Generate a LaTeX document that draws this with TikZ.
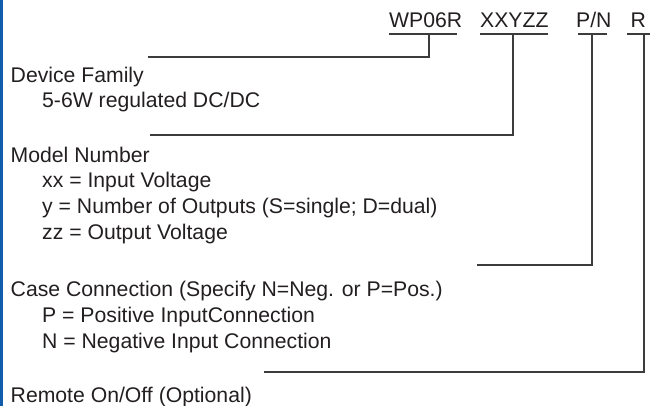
\documentclass[tikz,border=0pt]{standalone}
\usepackage{fontspec}
\setmainfont{Liberation Sans}
\definecolor{txt}{RGB}{35,31,32}
\definecolor{ln}{RGB}{60,60,60}
\definecolor{bar}{RGB}{18,92,172}
\begin{document}
\begin{tikzpicture}[x=1pt,y=-1pt,
  lbl/.style={anchor=base west, inner sep=0pt, font=\fontsize{21.2}{25}\selectfont, text=txt},
  lead/.style={draw=ln, line width=1.2pt}]
\useasboundingbox (0,0) rectangle (650,406);
\fill[bar] (0,0) rectangle (2.7,406);
% header
\node[lbl] (wp) at (389,28) {WP06R};
\node[lbl] (xy) at (480,28) {XXYZZ};
\node[lbl] (pn) at (576,28) {P/N};
\node[lbl] (r)  at (630.5,28) {R};
% descriptions
\node[lbl] (fam)  at (10.5,82.7) {Device Family};
\node[lbl] (fam1) at (42,108) {5-6W regulated DC/DC};
\node[lbl] (mod)  at (10.5,162.7) {Model Number};
\node[lbl] (mod1) at (42,188) {xx = Input Voltage};
\node[lbl] (mod2) at (42,213.5) {y = Number of Outputs (S=single; D=dual)};
\node[lbl] (mod3) at (42,239) {zz = Output Voltage};
\node[lbl] (cas)  at (10.5,296) {Case Connection (Specify N=Neg. or P=Pos.)};
\node[lbl] (cas1) at (42,322.7) {P = Positive InputConnection};
\node[lbl] (cas2) at (42,348.3) {N = Negative Input Connection};
\node[lbl] (rem)  at (10.5,402.5) {Remote On/Off (Optional)};
% underline coordinates
\coordinate (wpL) at (389,34); \coordinate (wpR) at (457,34); \coordinate (wpT) at (429,34);
\coordinate (xyL) at (480,34); \coordinate (xyR) at (548,34); \coordinate (xyT) at (513,34);
\coordinate (pnL) at (578,34); \coordinate (pnR) at (607,34); \coordinate (pnT) at (592,34);
\coordinate (rL)  at (627,34); \coordinate (rR)  at (650,34); \coordinate (rT)  at (644,34);
% leader ends
\coordinate (wpE) at (148,57);
\coordinate (xyE) at (150,135);
\coordinate (pnE) at (477,265);
\coordinate (rE)  at (264,372);
% leaders
\draw[lead] (wpL) -- (wpR);
\draw[lead] (wpT) |- (wpE);
\draw[lead] (xyL) -- (xyR);
\draw[lead] (xyT) |- (xyE);
\draw[lead] (pnL) -- (pnR);
\draw[lead] (pnT) |- (pnE);
\draw[lead] (rL) -- (rR);
\draw[lead] (rT) |- (rE);
\end{tikzpicture}
\end{document}
